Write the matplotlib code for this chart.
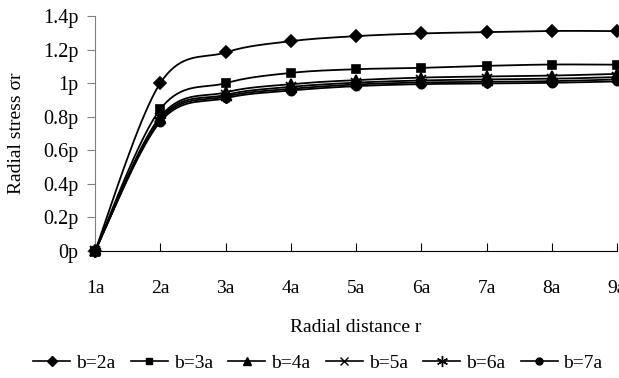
import numpy as np
import matplotlib.pyplot as plt

plt.rcParams['font.family'] = ['Liberation Serif', 'DejaVu Serif']

r = [1, 2, 3, 4, 5, 6, 7, 8, 9]
x_labels = ['1a', '2a', '3a', '4a', '5a', '6a', '7a', '8a', '9a']
y_ticks = [0, 0.2, 0.4, 0.6, 0.8, 1.0, 1.2, 1.4]
y_labels = ['0p', '0.2p', '0.4p', '0.6p', '0.8p', '1p', '1.2p', '1.4p']

b2 = [0, 1.00, 1.183, 1.25, 1.28, 1.296, 1.304, 1.311, 1.31]
b3 = [0, 0.845, 1.00, 1.061, 1.083, 1.091, 1.103, 1.111, 1.11]
b4 = [0, 0.80, 0.945, 0.994, 1.018, 1.033, 1.040, 1.045, 1.055]
b5 = [0, 0.79, 0.930, 0.978, 1.003, 1.016, 1.022, 1.026, 1.036]
b6 = [0, 0.78, 0.920, 0.966, 0.992, 1.004, 1.008, 1.012, 1.022]
b7 = [0, 0.77, 0.910, 0.956, 0.982, 0.994, 0.998, 1.002, 1.010]

series = [
    ('b=2a', b2, 'D', 6),
    ('b=3a', b3, 's', 6),
    ('b=4a', b4, '^', 7),
    ('b=5a', b5, 'x', 7),
    ('b=6a', b6, (6, 2, 0), 9),
    ('b=7a', b7, 'o', 6),
]


def smooth(xs, ys, n=20):
    # bezier smoothing between points, like excel's smoothed line
    xs = np.asarray(xs, float)
    ys = np.asarray(ys, float)
    px = np.concatenate([[xs[0]], xs, [xs[-1]]])
    py = np.concatenate([[ys[0]], ys, [ys[-1]]])
    ox, oy = [], []
    for i in range(1, len(px) - 2):
        p0 = np.array([px[i], py[i]])
        p3 = np.array([px[i + 1], py[i + 1]])
        c1 = p0 + (p3 - np.array([px[i - 1], py[i - 1]])) / 6
        c2 = p3 - (np.array([px[i + 2], py[i + 2]]) - p0) / 6
        t = np.linspace(0, 1, n)[:, None]
        pts = ((1 - t) ** 3 * p0 + 3 * (1 - t) ** 2 * t * c1
               + 3 * (1 - t) * t ** 2 * c2 + t ** 3 * p3)
        ox.extend(pts[:, 0])
        oy.extend(pts[:, 1])
    return ox, oy


fig = plt.figure(figsize=(6.19, 3.78), dpi=100)
ax = fig.add_axes([95 / 619, 1 - 251 / 378, (617 - 95) / 619, (251 - 16) / 378])

for name, vals, mk, ms in series:
    sx, sy = smooth(r, vals)
    ax.plot(sx, sy, color='black', lw=1.3, zorder=2)
    ax.plot(r, vals, linestyle='none', marker=mk, ms=ms, color='black',
            mew=1.2, zorder=3, clip_on=False)
    ax.plot([], [], color='black', lw=1.2, marker=mk, ms=ms - 1, mew=1.0,
            label=name)

ax.set_xlim(1, 9)
ax.set_ylim(0, 1.4)
ax.set_xticks(r)
ax.set_xticklabels(x_labels)
ax.set_yticks(y_ticks)
ax.set_yticklabels(y_labels)

for s in ['top', 'right']:
    ax.spines[s].set_visible(False)
ax.spines['left'].set_color('#808080')
ax.spines['bottom'].set_color('black')
ax.tick_params(axis='x', direction='in', length=6, labelsize=14, pad=21)
ax.tick_params(axis='y', direction='out', length=6, labelsize=14.5, pad=6,
               color='#808080')

fig.text(356 / 619, 1 - 328 / 378, 'Radial distance r', ha='center',
         va='center', fontsize=14)
fig.text(17 / 619, 1 - 133 / 378, 'Radial stress σr', ha='center',
         va='center', rotation=90, fontsize=14)

fig.legend(loc='center', bbox_to_anchor=(318 / 619, 1 - 363 / 378), ncol=6,
           frameon=False, fontsize=14, handlelength=1.9, handletextpad=0.3,
           columnspacing=0.8)

fig.savefig('out.png', dpi=100)
